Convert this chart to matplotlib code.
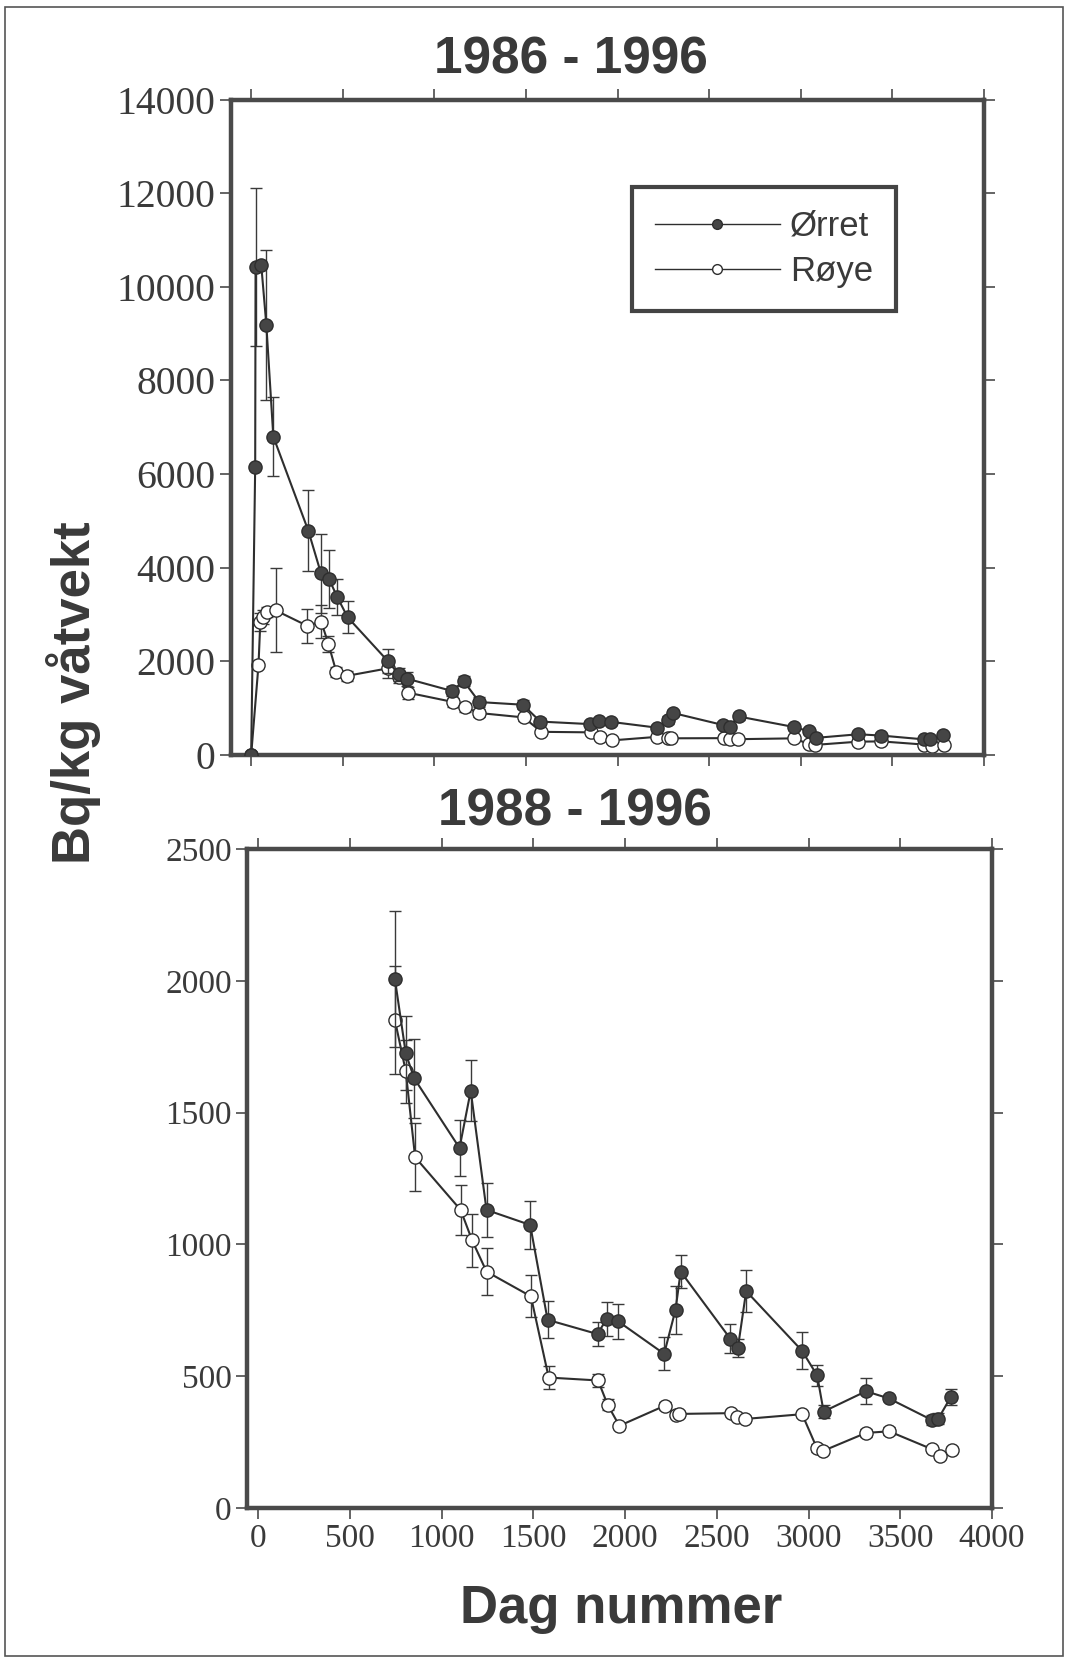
import matplotlib
matplotlib.use('Agg')
import matplotlib.pyplot as plt
from matplotlib.lines import Line2D
from matplotlib.patches import Rectangle

# ================= Data =================
# Ørret (brown trout): day number, Bq/kg and error bar half-length
orret_days = [0, 22, 24, 55, 83, 121, 312, 381, 425, 469, 527,
              746, 805, 851, 1098, 1159, 1245, 1483, 1578, 1850, 1899,
              1963, 2213, 2275, 2303, 2574, 2615, 2660, 2964, 3047, 3082,
              3313, 3437, 3672, 3707, 3775]
orret_vals = [0, 6160, 10420, 10470, 9180, 6800, 4790, 3880, 3760, 3380, 2940,
              2006, 1725, 1630, 1366, 1583, 1131, 1074, 714, 660, 717,
              708, 585, 752, 897, 642, 608, 823, 597, 503, 366,
              443, 416, 334, 339, 421]
orret_err = [0, 0, 1680, 0, 1600, 840, 860, 840, 620, 380, 340,
             258, 140, 150, 107, 115, 104, 92, 70, 47, 63,
             65, 62, 90, 63, 55, 35, 79, 70, 40, 25,
             50, 10, 20, 20, 30]

# Røye (Arctic char)
roye_days = [0, 40, 50, 66, 88, 133, 306, 382, 422, 465, 522,
             746, 805, 856, 1104, 1167, 1245, 1487, 1584, 1853, 1905,
             1969, 2216, 2275, 2292, 2580, 2612, 2655, 2965, 3045, 3080,
             3313, 3439, 3670, 3715, 3779]
roye_vals = [0, 1925, 2840, 2955, 3055, 3090, 2760, 2850, 2370, 1770, 1690,
             1851, 1657, 1331, 1131, 1015, 897, 803, 495, 484, 392,
             312, 388, 354, 357, 360, 347, 338, 356, 228, 217,
             285, 291, 224, 196, 221]
roye_err = [0, 0, 200, 150, 100, 900, 360, 350, 180, 100, 100,
            205, 120, 128, 95, 100, 90, 80, 43, 25, 20,
            10, 15, 10, 10, 10, 10, 10, 10, 15, 10,
            15, 15, 10, 10, 10]

top_yticks = [0, 2000, 4000, 6000, 8000, 10000, 12000, 14000]
bottom_yticks = [0, 500, 1000, 1500, 2000, 2500]
xticks = [0, 500, 1000, 1500, 2000, 2500, 3000, 3500, 4000]
BOTTOM_START = 700  # second panel only shows 1988 onwards
# ======================================================================

INK = '#3a3a3a'
SERIF = 'Liberation Serif'
SANS = 'Liberation Sans'


def style_axes(ax, ytick_size):
    for sp in ax.spines.values():
        sp.set_linewidth(3.2)
        sp.set_color('#4a4a4a')
    ax.tick_params(which='both', direction='out', length=8, width=1.1,
                   color=INK, top=True, right=True, labelcolor=INK, pad=3)
    for lab in ax.get_yticklabels():
        lab.set_fontfamily(SERIF)
        lab.set_fontsize(ytick_size)


def draw_series(ax, days, vals, err, filled, min_day=None):
    if min_day is not None:
        keep = [i for i, d in enumerate(days) if d >= min_day]
        days = [days[i] for i in keep]
        vals = [vals[i] for i in keep]
        err = [err[i] for i in keep]
    face = '#454545' if filled else 'white'
    ax.errorbar(days, vals, yerr=err, fmt='-o', color='#2e2e2e', lw=1.5,
                ms=9.5, mfc=face, mec='#2e2e2e', mew=1.0,
                ecolor='#3a3a3a', elinewidth=1.0, capsize=4, capthick=1.0,
                zorder=3 if filled else 2)


fig = plt.figure(figsize=(10.68, 16.59), dpi=100)

# === Top panel: 1986 - 1996 ===
ax1 = fig.add_axes([0.2163, 0.5449, 0.7051, 0.3951])
draw_series(ax1, roye_days, roye_vals, roye_err, filled=False)
draw_series(ax1, orret_days, orret_vals, orret_err, filled=True)
ax1.set_xlim(-110, 4000)
ax1.set_ylim(0, 14000)
ax1.set_xticks(xticks)
ax1.set_yticks(top_yticks)
ax1.set_xticklabels([])
style_axes(ax1, 28.5)

handles = [
    Line2D([], [], color='#2e2e2e', lw=1.0, marker='o', ms=7,
           mfc='#454545', mec='#2e2e2e'),
    Line2D([], [], color='#2e2e2e', lw=1.0, marker='o', ms=7,
           mfc='white', mec='#2e2e2e'),
]
leg = ax1.legend(handles, ['Ørret', 'Røye'], loc='upper left',
                 bbox_to_anchor=(0.5325, 0.866), fancybox=False,
                 prop={'family': SANS, 'size': 25}, handlelength=3.6,
                 handletextpad=0.3, borderpad=0.65, labelspacing=0.35,
                 framealpha=1, borderaxespad=0)
leg.get_frame().set_linewidth(3.0)
leg.get_frame().set_edgecolor('#444444')
for t in leg.get_texts():
    t.set_color(INK)

# === Bottom panel: 1988 - 1996 ===
ax2 = fig.add_axes([0.2313, 0.0910, 0.6976, 0.3972])
draw_series(ax2, roye_days, roye_vals, roye_err, filled=False, min_day=BOTTOM_START)
draw_series(ax2, orret_days, orret_vals, orret_err, filled=True, min_day=BOTTOM_START)
ax2.set_xlim(-60, 4000)
ax2.set_ylim(0, 2500)
ax2.set_xticks(xticks)
ax2.set_yticks(bottom_yticks)
style_axes(ax2, 24)
for lab in ax2.get_xticklabels():
    lab.set_fontfamily(SERIF)
    lab.set_fontsize(24)

# Titles and axis labels (placed in figure coords like the original)
fig.text(571 / 1068, 1 - 60 / 1659, '1986 - 1996', ha='center', va='center',
         family=SANS, weight='bold', size=37, color=INK)
fig.text(575 / 1068, 1 - 812 / 1659, '1988 - 1996', ha='center', va='center',
         family=SANS, weight='bold', size=37, color=INK)
fig.text(621 / 1068, 1 - 1609 / 1659, 'Dag nummer', ha='center', va='center',
         family=SANS, weight='bold', size=38, color=INK)
fig.text(74 / 1068, 1 - 693 / 1659, 'Bq/kg våtvekt', ha='center', va='center',
         rotation=90, family=SANS, weight='bold', size=38, color=INK)

# Thin frame round the whole page, as on the scan
fig.patches.append(Rectangle((0.005, 0.002), 0.99, 0.994, transform=fig.transFigure,
                             fill=False, lw=1.2, edgecolor='#555555'))

fig.savefig('out.png', dpi=100)
